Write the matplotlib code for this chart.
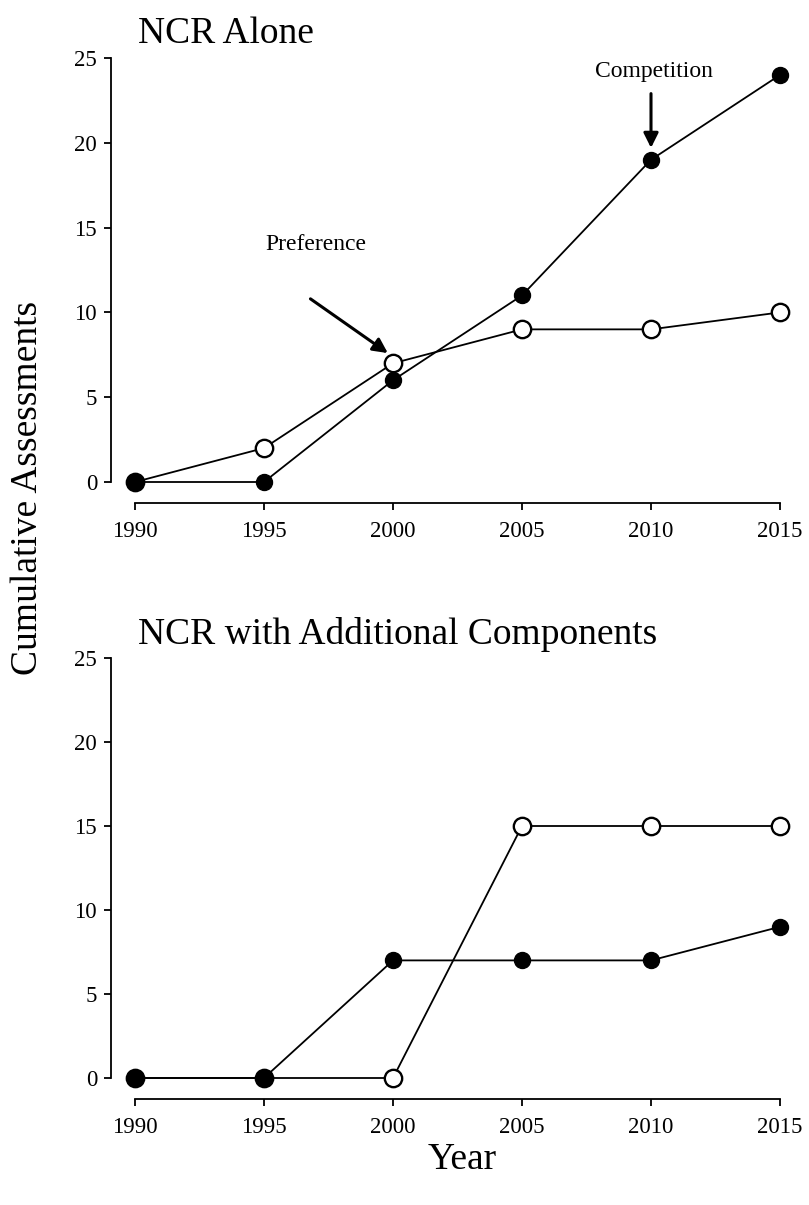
import matplotlib
matplotlib.use("Agg")
import matplotlib.pyplot as plt

plt.rcParams['font.family'] = ['Liberation Serif', 'DejaVu Serif']

years = [1990, 1995, 2000, 2005, 2010, 2015]
alone_filled = [0, 0, 6, 11, 19, 24]
alone_open = [0, 2, 7, 9, 9, 10]
comp_filled = [0, 0, 7, 7, 7, 9]
comp_open = [0, 0, 0, 15, 15, 15]
yticks = [0, 5, 10, 15, 20, 25]
titles = ["NCR Alone", "NCR with Additional Components"]

W, H = 809, 1205
fig = plt.figure(figsize=(W / 100, H / 100), dpi=100)

def make_ax(top_px, bottom_px, xspine_px):
    left_px, right_px = 135, 780
    ax = fig.add_axes([left_px / W, 1 - bottom_px / H,
                       (right_px - left_px) / W, (bottom_px - top_px) / H])
    ax.set_xlim(1990, 2015)
    ax.set_ylim(0, 25)
    for s in ['top', 'right']:
        ax.spines[s].set_visible(False)
    ax.spines['left'].set_position(('outward', 24 * 0.72))
    ax.spines['bottom'].set_position(('outward', (xspine_px - bottom_px) * 0.72))
    for s in ['left', 'bottom']:
        ax.spines[s].set_linewidth(1.3)
    ax.set_xticks(years)
    ax.set_yticks(yticks)
    ax.tick_params(axis='both', direction='out', length=5, width=1.3,
                   labelsize=16.5, pad=5)
    ax.tick_params(axis='x', pad=8)
    ax.patch.set_visible(False)
    return ax

def plot_series(ax, filled, opened):
    ax.plot(years, opened, color='black', lw=1.3, zorder=2, clip_on=False)
    ax.plot(years, filled, color='black', lw=1.3, zorder=2, clip_on=False)
    ax.plot(years, opened, linestyle='none', marker='o', markersize=12.5,
            markerfacecolor='white', markeredgecolor='black', markeredgewidth=1.7,
            zorder=3, clip_on=False)
    ax.plot(years, filled, linestyle='none', marker='o', markersize=11.5,
            markerfacecolor='black', markeredgecolor='black', markeredgewidth=1,
            zorder=4, clip_on=False)

ax1 = make_ax(58, 482, 503)
plot_series(ax1, alone_filled, alone_open)
ax1.set_title(titles[0], fontsize=27, loc='left', x=0.005, pad=11)

ax2 = make_ax(658, 1078, 1099)
plot_series(ax2, comp_filled, comp_open)
ax2.set_title(titles[1], fontsize=27, loc='left', x=0.005, pad=10)

# Annotations
ax1.annotate("Preference", xy=(2000, 7), xytext=(1997.0, 13.4),
             ha='center', va='bottom', fontsize=17)
ax1.annotate("", xy=(1999.8, 7.6), xytext=(1996.8, 10.8),
             arrowprops=dict(arrowstyle='-|>', color='black', lw=2.2,
                             mutation_scale=22, shrinkA=0, shrinkB=0))
ax1.annotate("Competition", xy=(2010, 19), xytext=(2010.1, 23.6),
             ha='center', va='bottom', fontsize=17)
ax1.annotate("", xy=(2010, 19.7), xytext=(2010, 22.9),
             arrowprops=dict(arrowstyle='-|>', color='black', lw=2.2,
                             mutation_scale=22, shrinkA=0, shrinkB=0))

fig.text(28 / W, 1 - 488 / H, "Cumulative Assessments", rotation=90,
         ha='center', va='center', fontsize=27)
fig.text(462 / W, 1 - 1160 / H, "Year", ha='center', va='center', fontsize=27)

fig.savefig("out.png", dpi=100)
